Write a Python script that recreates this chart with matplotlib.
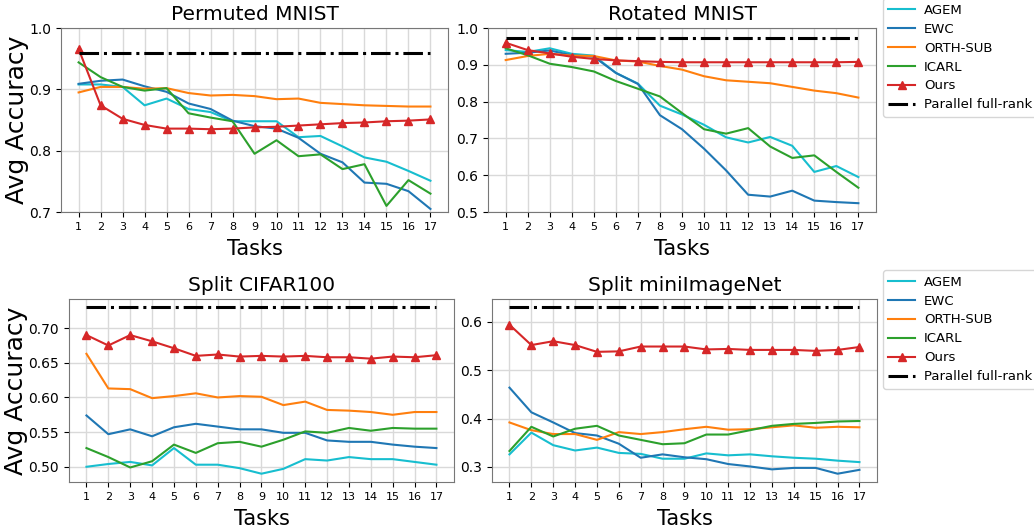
import numpy as np
import matplotlib
matplotlib.use('Agg')
import matplotlib.pyplot as plt

tasks = list(range(1, 18))

# Permuted MNIST
pm_agem = [0.908, 0.908, 0.904, 0.874, 0.885, 0.868, 0.863, 0.848, 0.848, 0.848, 0.822, 0.824, 0.807, 0.789, 0.782, 0.767, 0.751]
pm_ewc = [0.909, 0.914, 0.916, 0.905, 0.896, 0.877, 0.868, 0.849, 0.840, 0.836, 0.821, 0.795, 0.781, 0.748, 0.746, 0.734, 0.705]
pm_orth = [0.895, 0.904, 0.904, 0.901, 0.902, 0.894, 0.890, 0.891, 0.889, 0.884, 0.885, 0.878, 0.876, 0.874, 0.873, 0.872, 0.872]
pm_icarl = [0.944, 0.920, 0.904, 0.898, 0.902, 0.861, 0.854, 0.848, 0.795, 0.817, 0.791, 0.794, 0.770, 0.778, 0.710, 0.752, 0.730]
pm_ours = [0.966, 0.874, 0.852, 0.842, 0.836, 0.836, 0.835, 0.836, 0.838, 0.839, 0.841, 0.843, 0.845, 0.846, 0.848, 0.849, 0.851]
pm_full = 0.960

# Rotated MNIST
rm_agem = [0.940, 0.935, 0.945, 0.930, 0.925, 0.878, 0.849, 0.789, 0.765, 0.737, 0.703, 0.689, 0.704, 0.680, 0.609, 0.625, 0.595]
rm_ewc = [0.930, 0.933, 0.939, 0.926, 0.922, 0.878, 0.848, 0.763, 0.725, 0.672, 0.613, 0.547, 0.542, 0.558, 0.531, 0.527, 0.524]
rm_orth = [0.913, 0.924, 0.930, 0.925, 0.924, 0.912, 0.909, 0.897, 0.887, 0.869, 0.858, 0.854, 0.850, 0.840, 0.830, 0.823, 0.811]
rm_icarl = [0.945, 0.926, 0.903, 0.894, 0.882, 0.856, 0.835, 0.814, 0.769, 0.725, 0.713, 0.728, 0.678, 0.647, 0.654, 0.609, 0.566]
rm_ours = [0.960, 0.940, 0.931, 0.922, 0.916, 0.912, 0.910, 0.908, 0.907, 0.907, 0.907, 0.907, 0.907, 0.907, 0.907, 0.907, 0.908]
rm_full = 0.973

# Split CIFAR100
sc_agem = [0.500, 0.504, 0.507, 0.502, 0.527, 0.503, 0.503, 0.498, 0.490, 0.497, 0.511, 0.509, 0.514, 0.511, 0.511, 0.507, 0.503]
sc_ewc = [0.574, 0.547, 0.554, 0.544, 0.557, 0.562, 0.558, 0.554, 0.554, 0.549, 0.549, 0.538, 0.536, 0.536, 0.532, 0.529, 0.527]
sc_orth = [0.663, 0.613, 0.612, 0.599, 0.602, 0.606, 0.600, 0.602, 0.601, 0.589, 0.594, 0.582, 0.581, 0.579, 0.575, 0.579, 0.579]
sc_icarl = [0.527, 0.514, 0.499, 0.508, 0.532, 0.520, 0.534, 0.536, 0.529, 0.539, 0.551, 0.549, 0.556, 0.552, 0.556, 0.555, 0.555]
sc_ours = [0.690, 0.675, 0.690, 0.681, 0.671, 0.660, 0.662, 0.659, 0.660, 0.659, 0.660, 0.658, 0.658, 0.656, 0.659, 0.658, 0.661]
sc_full = 0.730

# Split miniImageNet
si_agem = [0.326, 0.371, 0.345, 0.334, 0.340, 0.329, 0.327, 0.317, 0.317, 0.328, 0.324, 0.326, 0.322, 0.319, 0.317, 0.313, 0.310]
si_ewc = [0.464, 0.413, 0.392, 0.370, 0.365, 0.348, 0.319, 0.326, 0.320, 0.316, 0.306, 0.301, 0.295, 0.298, 0.298, 0.286, 0.294]
si_orth = [0.392, 0.376, 0.368, 0.368, 0.356, 0.372, 0.368, 0.372, 0.378, 0.383, 0.377, 0.378, 0.382, 0.386, 0.381, 0.383, 0.382]
si_icarl = [0.333, 0.383, 0.363, 0.379, 0.385, 0.365, 0.356, 0.347, 0.349, 0.367, 0.367, 0.376, 0.385, 0.389, 0.391, 0.394, 0.395]
si_ours = [0.594, 0.552, 0.560, 0.552, 0.538, 0.539, 0.549, 0.549, 0.549, 0.543, 0.544, 0.542, 0.542, 0.542, 0.540, 0.542, 0.548]
si_full = 0.630

fig = plt.figure(figsize=(10.34, 5.29), dpi=100)
ax1 = fig.add_axes([0.0590, 0.5992, 0.3743, 0.3478])
ax2 = fig.add_axes([0.4720, 0.5992, 0.3752, 0.3478])
ax3 = fig.add_axes([0.0667, 0.0888, 0.3723, 0.3459])
ax4 = fig.add_axes([0.4758, 0.0888, 0.3723, 0.3459])

paneles = [
    (ax1, 'Permuted MNIST', pm_agem, pm_ewc, pm_orth, pm_icarl, pm_ours, pm_full),
    (ax2, 'Rotated MNIST', rm_agem, rm_ewc, rm_orth, rm_icarl, rm_ours, rm_full),
    (ax3, 'Split CIFAR100', sc_agem, sc_ewc, sc_orth, sc_icarl, sc_ours, sc_full),
    (ax4, 'Split miniImageNet', si_agem, si_ewc, si_orth, si_icarl, si_ours, si_full),
]

for ax, titulo, agem, ewc, orth, icarl, ours, full in paneles:
    ax.plot(tasks, agem, color='tab:cyan', lw=1.5, label='AGEM')
    ax.plot(tasks, ewc, color='tab:blue', lw=1.5, label='EWC')
    ax.plot(tasks, orth, color='tab:orange', lw=1.5, label='ORTH-SUB')
    ax.plot(tasks, icarl, color='tab:green', lw=1.5, label='ICARL')
    ax.plot(tasks, ours, color='tab:red', lw=1.5, marker='^', markersize=6, label='Ours')
    ax.plot(tasks, [full] * len(tasks), color='black', lw=2.2, linestyle='-.', label='Parallel full-rank')
    ax.set_title(titulo, fontsize=14.5)
    ax.set_xlabel('Tasks', fontsize=15, labelpad=5)
    ax.set_xticks(tasks)
    ax.tick_params(axis='x', labelsize=8)
    ax.tick_params(axis='y', labelsize=10)
    ax.grid(True, color='#d9d9d9', lw=1)
    ax.set_axisbelow(True)
    for s in ax.spines.values():
        s.set_color('#777777')

ax1.set_ylim([0.7, 1.0])
ax1.set_yticks([0.7, 0.8, 0.9, 1.0])
ax2.set_ylim([0.5, 1.0])
ax1.set_ylabel('Avg Accuracy', fontsize=18, labelpad=0)
ax3.set_ylabel('Avg Accuracy', fontsize=18, labelpad=0)

ax2.legend(loc='upper left', bbox_to_anchor=(0.854, 1.003), bbox_transform=fig.transFigure,
           fontsize=9.5, labelspacing=0.45, borderaxespad=0, handletextpad=0.7)
ax4.legend(loc='upper left', bbox_to_anchor=(0.854, 0.489), bbox_transform=fig.transFigure,
           fontsize=9.5, labelspacing=0.45, borderaxespad=0, handletextpad=0.7)

plt.savefig('out.png', dpi=100)
